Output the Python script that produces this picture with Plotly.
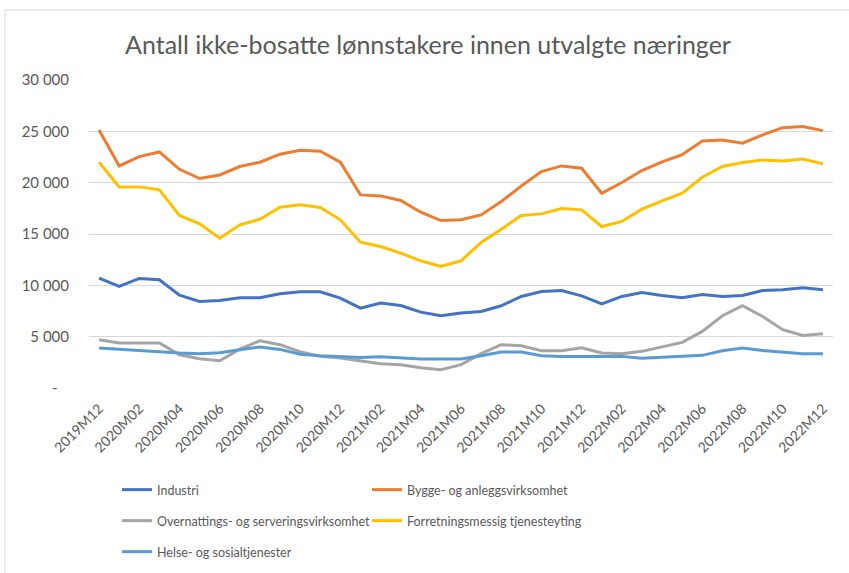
import plotly.graph_objects as go

months = ["2019M12"] + [f"{y}M{m:02d}" for y in (2020, 2021, 2022) for m in range(1, 13)]

industri = [10700, 9890, 10670, 10540, 9050, 8430, 8530, 8790, 8790, 9180, 9370, 9370, 8760,
            7780, 8270, 8040, 7390, 7040, 7300, 7460, 8010, 8920, 9400, 9500, 8980, 8200,
            8920, 9310, 9020, 8790, 9110, 8920, 9020, 9500, 9570, 9760, 9570]
bygge = [25130, 21630, 22540, 22990, 21300, 20400, 20750, 21570, 21990, 22770, 23150, 23060, 21990,
         18810, 18710, 18260, 17120, 16310, 16380, 16860, 18160, 19680, 21080, 21630, 21400, 18970,
         20010, 21180, 22020, 22730, 24060, 24160, 23840, 24650, 25360, 25460, 25070]
overnatting = [4700, 4380, 4380, 4380, 3240, 2850, 2660, 3790, 4600, 4220, 3530, 3080, 2920,
               2660, 2370, 2270, 1980, 1780, 2270, 3340, 4220, 4120, 3630, 3630, 3920, 3410,
               3340, 3570, 3990, 4440, 5510, 7040, 8010, 6970, 5680, 5120, 5290]
forretning = [21990, 19590, 19590, 19300, 16800, 15990, 14590, 15890, 16440, 17610, 17840, 17580, 16380,
              14200, 13780, 13130, 12390, 11840, 12390, 14170, 15470, 16800, 16960, 17480, 17350, 15730,
              16220, 17420, 18230, 18970, 20530, 21570, 21960, 22210, 22120, 22310, 21830]
helse = [3890, 3760, 3660, 3500, 3400, 3340, 3440, 3730, 3990, 3760, 3280, 3150, 3080,
         2980, 3050, 2950, 2820, 2820, 2820, 3150, 3500, 3500, 3150, 3080, 3080, 3080,
         3080, 2890, 2980, 3080, 3180, 3630, 3890, 3660, 3500, 3340, 3340]

series_names = ["Industri", "Bygge- og anleggsvirksomhet", "Overnattings- og serveringsvirksomhet",
                "Forretningsmessig tjenesteyting", "Helse- og sosialtjenester"]
series_values = [industri, bygge, overnatting, forretning, helse]
colors = ["#4472C4", "#ED7D31", "#A5A5A5", "#FFC000", "#5B9BD5"]
legend_ids = ["legend", "legend", "legend2", "legend2", "legend3"]

y_tickvals = [0, 5000, 10000, 15000, 20000, 25000, 30000]
y_ticktext = ["-\u00a0\u00a0\u00a0", "5 000", "10 000", "15 000", "20 000", "25 000", "30 000"]

title_text = "Antall ikke-bosatte lønnstakere innen utvalgte næringer"

FONT = "Lato, 'Open Sans', sans-serif"
GREY = "#595959"

fig = go.Figure()
for name, vals, col, lg in zip(series_names, series_values, colors, legend_ids):
    fig.add_trace(go.Scatter(x=months, y=vals, name=name, mode="lines",
                             line=dict(color=col, width=3), legend=lg))

W, H = 849, 573
L, R, T, B = 89, 16, 80, 185
pw, ph = W - L - R, H - T - B

def py(pix):
    return (H - B - pix) / ph

def px(pix):
    return (pix - L) / pw

leg_common = dict(orientation="h", entrywidth=205, entrywidthmode="pixels",
                  font=dict(family=FONT, size=12.5, color=GREY), bgcolor="rgba(0,0,0,0)",
                  xref="container", yref="container",
                  xanchor="left", yanchor="middle", traceorder="normal")

fig.update_layout(
    width=W, height=H,
    margin=dict(l=L, r=R, t=T, b=B, autoexpand=False),
    paper_bgcolor="white", plot_bgcolor="white",
    title=dict(text=title_text, x=428 / W, xanchor="center", y=1 - 45 / H, yanchor="middle",
               font=dict(family=FONT, size=25, color=GREY)),
    xaxis=dict(type="category", range=[-0.5, len(months) - 0.5],
               tickvals=months[::2], ticktext=months[::2], tickangle=-45,
               tickfont=dict(family=FONT, size=14, color=GREY),
               showgrid=False, showline=False, zeroline=False,
               ticks="outside", ticklen=6, tickcolor="rgba(0,0,0,0)",
               automargin=False),
    yaxis=dict(range=[0, 30000], tickvals=y_tickvals, ticktext=y_ticktext,
               tickfont=dict(family=FONT, size=15, color=GREY),
               showgrid=True, gridcolor="#D9D9D9", gridwidth=1,
               zeroline=False, showline=False,
               ticks="outside", ticklen=16, tickcolor="rgba(0,0,0,0)",
               automargin=False),
    legend=dict(x=117 / W, y=1 - 490 / H, **leg_common),
    legend2=dict(x=117 / W, y=1 - 521 / H, **leg_common),
    legend3=dict(x=117 / W, y=1 - 552 / H, **leg_common),
    shapes=[
        dict(type="line", xref="paper", yref="paper", x0=px(5), x1=px(W + 5), y0=py(10), y1=py(10),
             line=dict(color="#D9D9D9", width=1)),
        dict(type="line", xref="paper", yref="paper", x0=px(5), x1=px(5), y0=py(10), y1=py(H + 5),
             line=dict(color="#D9D9D9", width=1)),
    ],
    showlegend=True,
)

fig.write_html("out.html", config={"displayModeBar": False},
               post_script="document.body.style.margin='0';document.body.style.overflow='hidden';")
